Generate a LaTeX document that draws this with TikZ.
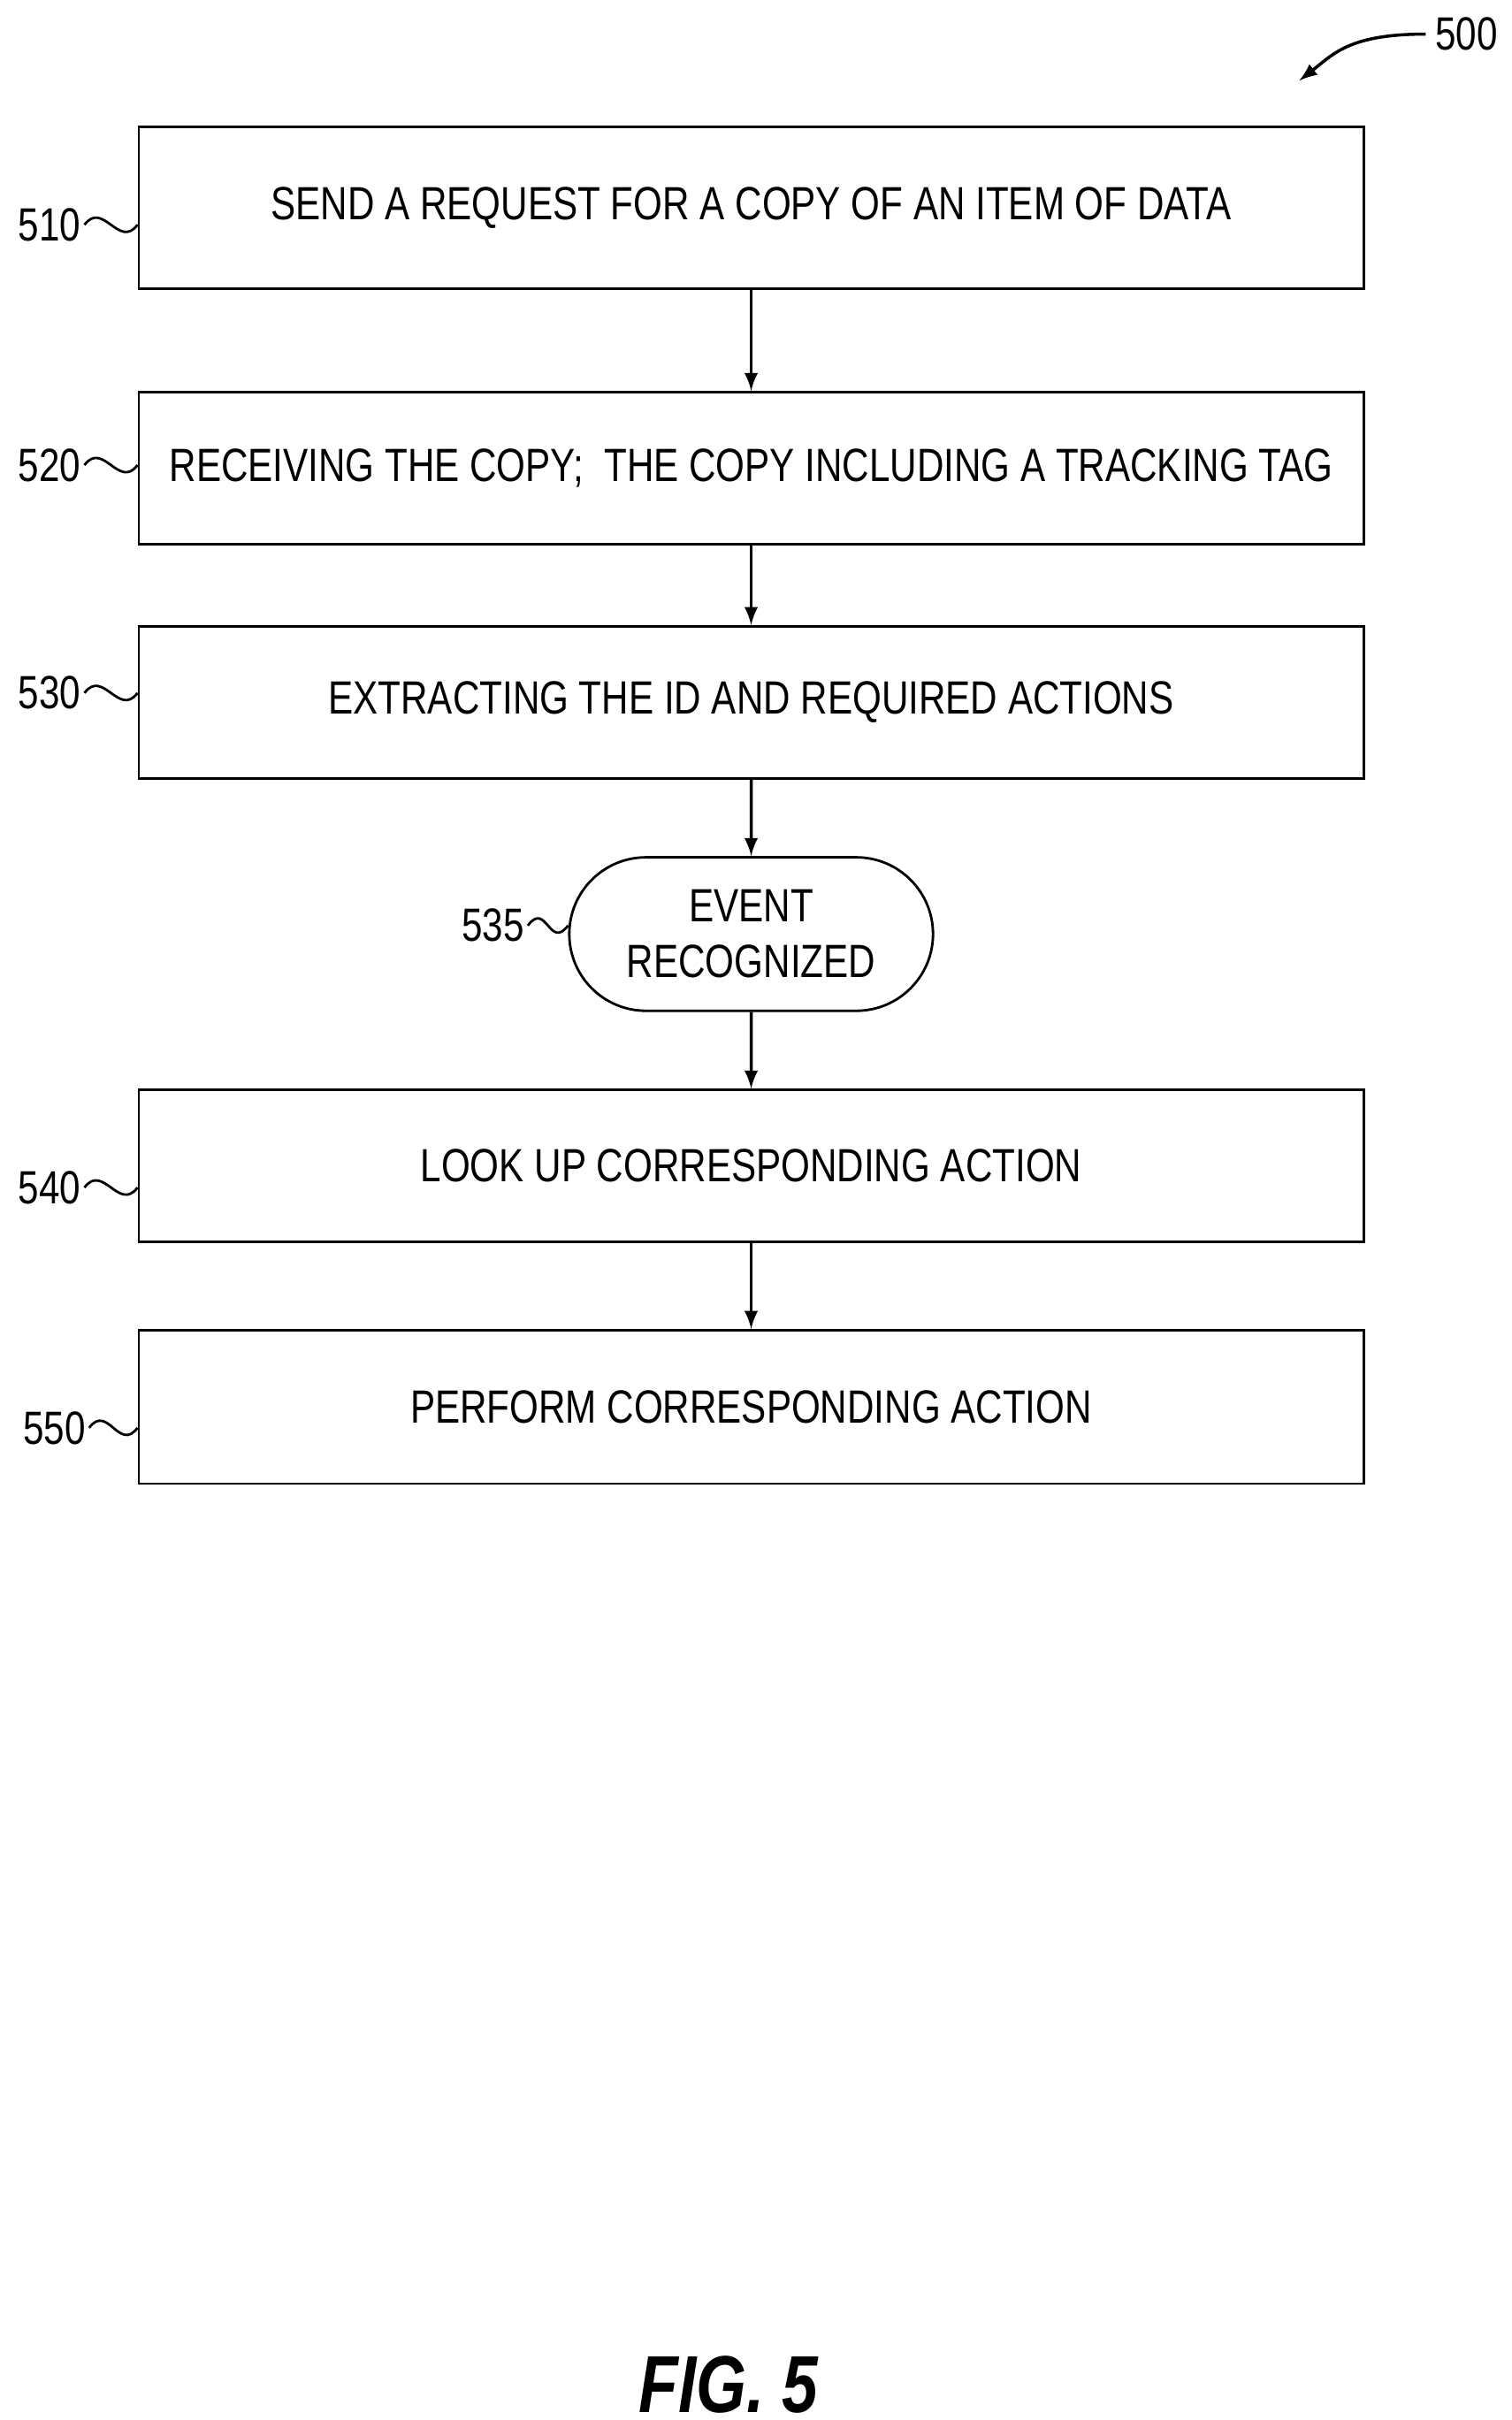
\documentclass[tikz,border=0pt]{standalone}
\usepackage{fontspec}
\setmainfont{Liberation Sans}[FakeStretch=0.8]
\usetikzlibrary{positioning,shapes.misc}
\tikzset{
  stepbox/.style={draw,thick,minimum width=790*0.01753cm,inner sep=0pt,font=\fontsize{15}{18}\selectfont},
  term/.style={draw,thick,rounded rectangle,minimum width=228*0.01753cm,minimum height=99*0.01753cm,inner xsep=14pt,align=center,font=\fontsize{15}{18}\selectfont},
  ref/.style={font=\fontsize{15}{18}\selectfont,inner sep=0pt},
  flow/.style={line width=1pt,-latex},
  squig/.style={thick}
}
\begin{document}
\begin{tikzpicture}[x=0.01753cm,y=-0.01753cm]
\useasboundingbox (0,0) rectangle (975,1561);

\node[stepbox,minimum height=104*0.01753cm] (s510) at (484.5,134) {SEND A REQUEST FOR A COPY OF AN ITEM OF DATA};
\node[stepbox,minimum height=98*0.01753cm] (s520) at (484.5,302) {RECEIVING THE COPY;\ \ THE COPY INCLUDING A TRACKING TAG};
\node[stepbox,minimum height=98*0.01753cm] (s530) at (484.5,453) {EXTRACTING THE ID AND REQUIRED ACTIONS};
\node[term] (s535) at (484.5,602.5) {EVENT\\RECOGNIZED};
\node[stepbox,minimum height=98*0.01753cm] (s540) at (484.5,752) {LOOK UP CORRESPONDING ACTION};
\node[stepbox,minimum height=99*0.01753cm] (s550) at (484.5,907.5) {PERFORM CORRESPONDING ACTION};

% connectors
\draw[flow] (s510) -- (s520);
\draw[flow] (s520) -- (s530);
\draw[flow] (s530) -- (s535);
\draw[flow] (s535) -- (s540);
\draw[flow] (s540) -- (s550);

% reference numerals
\node[ref] (n510) at (32,145) {510};
\node[ref] (n520) at (32,300) {520};
\node[ref] (n530) at (32,447) {530};
\node[ref] (n535) at (318,597) {535};
\node[ref] (n540) at (32,766) {540};
\node[ref] (n550) at (35,921) {550};
\foreach \n/\b in {510/s510,520/s520,530/s530,540/s540,550/s550,535/s535}
  \draw[squig] ([xshift=1pt]n\n.east) .. controls +(12,-16) and +(-12,16) .. (\b.west |- n\n.east);

\node[ref] (n500) at (946,22) {500};
\draw[line width=1pt,-latex] ([xshift=-3pt]n500.west) .. controls (870,22) and (860,35) .. (838,52);

\node[font=\fontsize{26}{30}\selectfont\bfseries\itshape] (fig) at (470,1538) {FIG. 5};
\end{tikzpicture}
\end{document}
